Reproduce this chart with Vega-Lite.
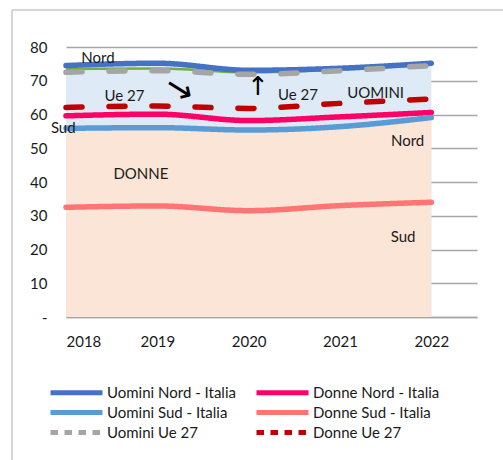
{
  "$schema": "https://vega.github.io/schema/vega-lite/v6.json",
  "autosize": {"type": "none"},
  "width": 411,
  "height": 270,
  "padding": {"left": 66, "top": 47, "right": 26, "bottom": 143},
  "background": "white",
  "config": {
    "view": {"stroke": null},
    "font": "Lato",
    "axis": {"labelFont": "Lato", "labelFontSize": 15, "labelFontWeight": 400, "labelColor": "#1a1a1a", "labelOverlap": false},
    "axisY": {"labelOverlap": false}
  },
  "datasets": {
    "series": [
      {"year": 2018, "series": "Uomini Nord - Italia", "value": 74.5},
      {"year": 2019, "series": "Uomini Nord - Italia", "value": 75.2},
      {"year": 2020, "series": "Uomini Nord - Italia", "value": 73.1},
      {"year": 2021, "series": "Uomini Nord - Italia", "value": 73.7},
      {"year": 2022, "series": "Uomini Nord - Italia", "value": 75.2},
      {"year": 2018, "series": "Donne Nord - Italia", "value": 59.6},
      {"year": 2019, "series": "Donne Nord - Italia", "value": 60.1},
      {"year": 2020, "series": "Donne Nord - Italia", "value": 58.2},
      {"year": 2021, "series": "Donne Nord - Italia", "value": 59.3},
      {"year": 2022, "series": "Donne Nord - Italia", "value": 60.6},
      {"year": 2018, "series": "Uomini Sud - Italia", "value": 55.9},
      {"year": 2019, "series": "Uomini Sud - Italia", "value": 56.1},
      {"year": 2020, "series": "Uomini Sud - Italia", "value": 55.4},
      {"year": 2021, "series": "Uomini Sud - Italia", "value": 56.4},
      {"year": 2022, "series": "Uomini Sud - Italia", "value": 59.1},
      {"year": 2018, "series": "Donne Sud - Italia", "value": 32.5},
      {"year": 2019, "series": "Donne Sud - Italia", "value": 32.9},
      {"year": 2020, "series": "Donne Sud - Italia", "value": 31.5},
      {"year": 2021, "series": "Donne Sud - Italia", "value": 33.0},
      {"year": 2022, "series": "Donne Sud - Italia", "value": 34.0},
      {"year": 2018, "series": "Uomini Ue 27", "value": 72.5},
      {"year": 2019, "series": "Uomini Ue 27", "value": 73.0},
      {"year": 2020, "series": "Uomini Ue 27", "value": 71.9},
      {"year": 2021, "series": "Uomini Ue 27", "value": 73.0},
      {"year": 2022, "series": "Uomini Ue 27", "value": 74.5},
      {"year": 2018, "series": "Donne Ue 27", "value": 62.1},
      {"year": 2019, "series": "Donne Ue 27", "value": 62.5},
      {"year": 2020, "series": "Donne Ue 27", "value": 61.8},
      {"year": 2021, "series": "Donne Ue 27", "value": 63.3},
      {"year": 2022, "series": "Donne Ue 27", "value": 64.6},
      {"year": 2018, "series": "verde", "value": 73.5},
      {"year": 2019, "series": "verde", "value": 73.6},
      {"year": 2020, "series": "verde", "value": 72.5},
      {"year": 2021, "series": "verde", "value": 73.3},
      {"year": 2022, "series": "verde", "value": 74.8}
    ],
    "notes": [
      {"year": 2018.35, "value": 76.7, "label": "Nord"},
      {"year": 2018.64, "value": 65.5, "label": "Ue 27"},
      {"year": 2020.54, "value": 65.8, "label": "Ue 27"},
      {"year": 2021.39, "value": 66.4, "label": "UOMINI"},
      {"year": 2017.97, "value": 56.0, "label": "Sud"},
      {"year": 2018.82, "value": 42.4, "label": "DONNE"},
      {"year": 2021.74, "value": 52.1, "label": "Nord"},
      {"year": 2021.69, "value": 23.7, "label": "Sud"}
    ],
    "border": [
      {"year": 2017.409, "value": 90.96, "year2": 2017.409, "value2": -42.37},
      {"year": 2017.409, "value": 90.96, "year2": 2022.785, "value2": 90.96}
    ]
  },
  "encoding": {
    "x": {"field": "year", "type": "quantitative", "scale": {"domain": [2018, 2022.5], "nice": false, "zero": false},
      "axis": {"values": [2018, 2019, 2020, 2021, 2022], "format": "d", "grid": false, "ticks": false, "domainColor": "#A6A6A6", "domainWidth": 1.5, "labelPadding": 17, "labelOverlap": false, "title": null}},
    "y": {"field": "value", "type": "quantitative", "scale": {"domain": [0, 80], "nice": false},
      "axis": {"values": [0, 10, 20, 30, 40, 50, 60, 70, 80], "labelExpr": "datum.value == 0 ? '-' : datum.label", "domain": false, "ticks": false, "grid": true, "gridColor": "#A6A6A6", "gridWidth": 1.5, "labelPadding": 19, "labelOverlap": false, "title": null}}
  },
  "layer": [
    {
      "data": {"name": "series"},
      "transform": [{"filter": "datum.series == 'Uomini Nord - Italia'"}],
      "mark": {"type": "area", "color": "#DEEAF6", "interpolate": "monotone"}
    },
    {
      "data": {"name": "series"},
      "transform": [{"filter": "datum.series == 'Uomini Sud - Italia'"}],
      "mark": {"type": "area", "color": "#FBE5D6", "interpolate": "monotone"}
    },
    {
      "data": {"name": "series"},
      "transform": [{"filter": "datum.series == 'verde'"}],
      "mark": {"type": "line", "color": "#70AD47", "strokeWidth": 2.5, "interpolate": "monotone"}
    },
    {
      "data": {"name": "series"},
      "transform": [{"filter": "datum.series != 'verde'"}],
      "mark": {"type": "line", "strokeWidth": 5.5, "strokeCap": "round", "interpolate": "monotone"},
      "encoding": {
        "color": {"field": "series", "type": "nominal",
          "scale": {"domain": ["Uomini Nord - Italia", "Uomini Sud - Italia", "Uomini Ue 27", "Donne Nord - Italia", "Donne Sud - Italia", "Donne Ue 27"],
            "range": ["#4472C4", "#5B9BD5", "#A5A5A5", "#FF0066", "#FF7575", "#C00000"]},
          "legend": {
            "title": null, "orient": "none", "legendX": -18, "legendY": 338, "columns": 2, "columnPadding": 10, "rowPadding": -1,
            "symbolType": "M-1,0H9.4", "symbolSize": 100, "symbolStrokeWidth": 5, "labelFont": "Lato", "labelFontSize": 15, "labelColor": "#1a1a1a", "labelOffset": 44, "labelLimit": 300,
            "symbolDash": {"expr": "indexof(datum.value, 'Ue 27') >= 0 ? [7.5, 6.5] : [1, 0]"}
          }},
        "strokeDash": {"condition": {"test": "indexof(datum.series, 'Ue 27') >= 0", "value": [16, 27]}, "value": [1, 0]}
      }
    },
    {
      "data": {"name": "notes"},
      "mark": {"type": "text", "font": "Lato", "fontSize": 15, "color": "#1a1a1a"},
      "encoding": {"text": {"field": "label"}}
    },
    {
      "data": {"values": [{"year": 2019.24, "value": 67.3, "label": "→"}]},
      "mark": {"type": "text", "font": "DejaVu Sans", "fontSize": 34, "angle": 32, "color": "#000000"},
      "encoding": {"text": {"field": "label"}}
    },
    {
      "data": {"values": [{"year": 2020.10, "value": 68.2, "label": "↑"}]},
      "mark": {"type": "text", "font": "DejaVu Sans", "fontSize": 26, "color": "#000000"},
      "encoding": {"text": {"field": "label"}}
    },
    {
      "data": {"name": "border"},
      "mark": {"type": "rule", "color": "#C8C8C8", "strokeWidth": 1.5, "clip": false},
      "encoding": {
        "x2": {"field": "year2"},
        "y2": {"field": "value2"}
      }
    }
  ]
}
